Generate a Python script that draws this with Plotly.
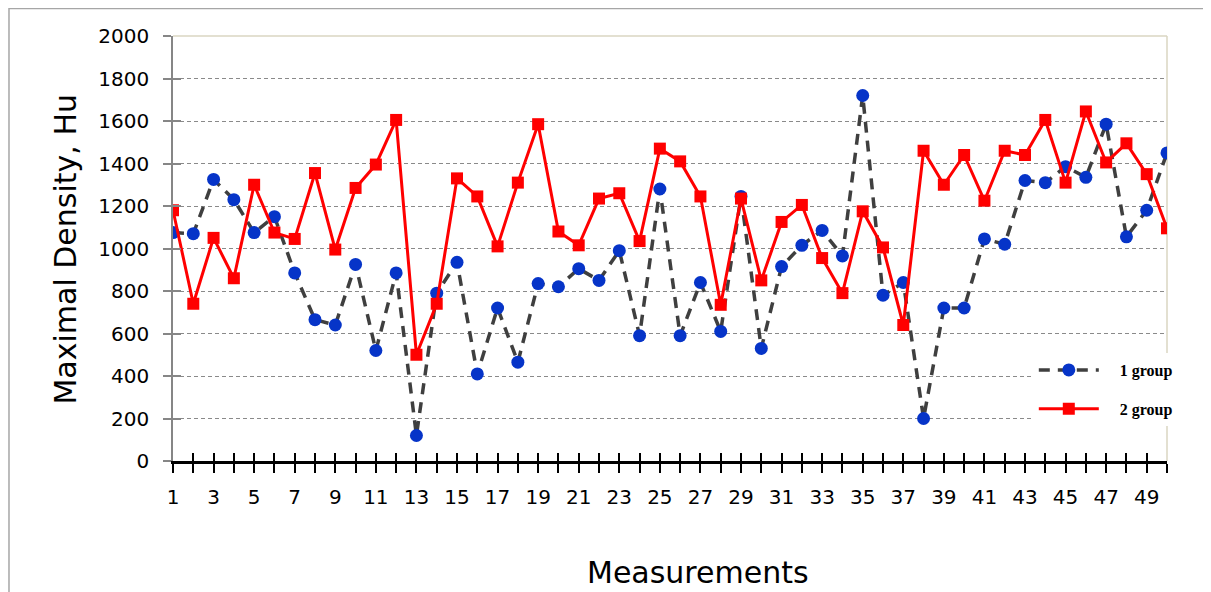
import plotly.graph_objects as go

measurements = list(range(1, 51))
group1 = [1075, 1070, 1325, 1230, 1075, 1150, 885, 665, 640, 925,
          520, 885, 120, 790, 935, 410, 720, 465, 835, 820,
          905, 850, 990, 590, 1280, 590, 840, 610, 1245, 530,
          915, 1015, 1085, 965, 1720, 780, 840, 200, 720, 720,
          1045, 1020, 1320, 1310, 1385, 1335, 1585, 1055, 1180, 1450]
group2 = [1180, 740, 1050, 860, 1300, 1075, 1045, 1355, 995, 1285,
          1395, 1605, 500, 740, 1330, 1245, 1010, 1310, 1585, 1080,
          1015, 1235, 1260, 1035, 1470, 1410, 1245, 735, 1235, 850,
          1125, 1205, 955, 790, 1175, 1005, 640, 1460, 1300, 1440,
          1225, 1460, 1440, 1605, 1310, 1645, 1405, 1495, 1350, 1095]
y_ticks = list(range(0, 2001, 200))
x_tick_text = [str(v) if v % 2 == 1 else "" for v in measurements]
series_names = ["\u00a0\u00a0\u00a0\u00a01 group", "\u00a0\u00a0\u00a0\u00a02 group"]

fig = go.Figure()
fig.add_trace(go.Scatter(
    x=measurements, y=group1, name=series_names[0], mode="lines+markers",
    line=dict(color="#3f3f3f", width=3.5, dash="11px,8px"),
    marker=dict(symbol="circle", size=13, color="#0634C8"),
    legendgroup="g1"))
fig.add_trace(go.Scatter(
    x=measurements, y=group2, name=series_names[1], mode="lines+markers",
    line=dict(color="#FF0000", width=3),
    marker=dict(symbol="square", size=12, color="#FF0000"),
    legendgroup="g2"))

font_main = "DejaVu Sans"

fig.update_layout(
    width=1203, height=584,
    margin=dict(l=165, r=44, t=28, b=131),
    paper_bgcolor="white", plot_bgcolor="white",
    showlegend=True,
    legend=dict(x=0.866, y=0.254, xanchor="left", yanchor="top",
                bgcolor="white", borderwidth=0,
                font=dict(family="Liberation Serif", size=16, color="black", weight="bold"),
                itemwidth=60, traceorder="grouped", tracegroupgap=15),
    xaxis=dict(range=[1, 50], tickvals=measurements, ticktext=x_tick_text,
               showgrid=False, zeroline=False, showline=True,
               linecolor="black", linewidth=2.5,
               ticks="outside", ticklen=9, tickwidth=2, tickcolor="black",
               ticklabelstandoff=7,
               tickfont=dict(family=font_main, size=20, color="black")),
    xaxis2=dict(range=[1, 50], tickvals=measurements, overlaying="x",
                anchor="y", side="bottom", showticklabels=False,
                showgrid=False, zeroline=False, showline=False,
                ticks="inside", ticklen=8, tickwidth=2, tickcolor="black"),
    yaxis=dict(range=[0, 2000], tickvals=y_ticks,
               showgrid=True, gridcolor="#8a8a8a", griddash="4px,3px", gridwidth=1,
               zeroline=False, showline=True, linecolor="#868686", linewidth=1.5,
               ticks="outside", ticklen=8, tickwidth=1.5, tickcolor="#868686",
               ticklabelstandoff=10,
               tickfont=dict(family=font_main, size=20, color="black")),
    yaxis2=dict(range=[0, 2000], tickvals=y_ticks, overlaying="y",
                anchor="x", side="left", showticklabels=False,
                showgrid=False, zeroline=False, showline=False,
                ticks="inside", ticklen=8, tickwidth=1.5, tickcolor="#868686"),
    annotations=[
        dict(text="Maximal Density, Hu", xref="paper", yref="paper",
             x=-0.108, y=0.499, textangle=-90, showarrow=False,
             xanchor="center", yanchor="middle",
             font=dict(family=font_main, size=30, color="black")),
        dict(text="Measurements", xref="paper", yref="paper",
             x=0.528, y=-0.262, showarrow=False,
             xanchor="center", yanchor="middle",
             font=dict(family=font_main, size=30, color="black")),
    ],
    shapes=[
        dict(type="line", xref="paper", yref="paper", x0=0, x1=1, y0=1, y1=1,
             line=dict(color="#DAD6C2", width=1.5), layer="below"),
        dict(type="line", xref="paper", yref="paper", x0=1, x1=1, y0=0, y1=1,
             line=dict(color="#DAD6C2", width=1.5), layer="below"),
        dict(type="rect", xref="paper", yref="paper",
             x0=-0.1650, x1=1.0382, y0=-0.35, y1=1.0645,
             line=dict(color="#A6A6A6", width=1.5), layer="below"),
    ],
)
# invisible helper trace to activate the overlay axes (crossing tick marks)
fig.add_trace(go.Scatter(x=[1], y=[0], xaxis="x2", yaxis="y2", mode="markers",
                         marker=dict(opacity=0), showlegend=False, hoverinfo="skip"))

fig.write_html("out.html")
